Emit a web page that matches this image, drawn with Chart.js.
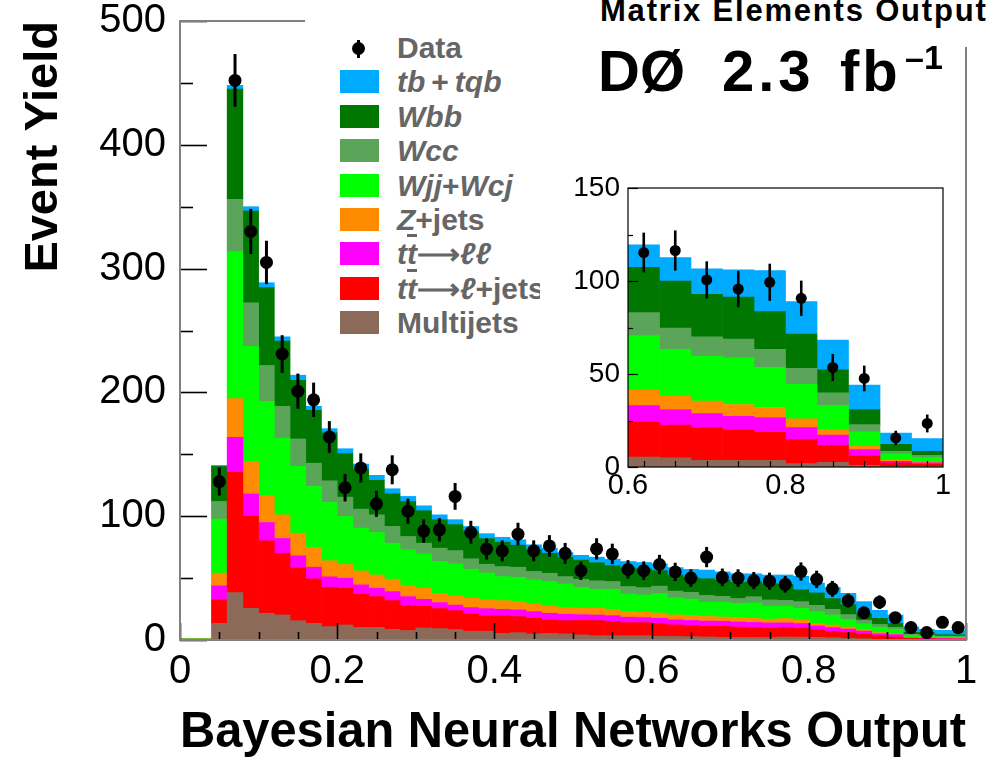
<!DOCTYPE html>
<html>
<head>
<meta charset="utf-8">
<title>Bayesian Neural Networks Output</title>
<script src="https://cdn.jsdelivr.net/npm/chart.js@4.4.1/dist/chart.umd.min.js"></script>
<style>
  body { margin: 0; background: #fff; }
  #wrap { position: relative; width: 996px; height: 765px; overflow: hidden;
          font-family: "Liberation Sans", Arial, sans-serif; }
  #mainChart { position: absolute; left: 0; top: 0; }
  #insetChart { position: absolute; left: 540px; top: 160px; background: #fff; }
  .mask { position: absolute; background: #fff; }
  #legend { left: 305px; top: 0; width: 250px; height: 340px; }
  .row { position: absolute; left: 0; height: 34px; line-height: 34px; width: 250px;
         font-weight: bold; font-size: 30px; color: #666; white-space: nowrap; }
  .sw { position: absolute; left: 35px; top: 5px; width: 39px; height: 23px; }
  .lbl { position: absolute; left: 92px; top: 0; }
  .i { font-style: italic; }
  .ov { text-decoration: overline; }
  .dot { position: absolute; left: 47px; top: 11px; width: 13px; height: 13px; border-radius: 50%; background: #000; }
  .err { position: absolute; left: 52px; top: 9px; width: 3px; height: 18px; background: #000; }
  #topMask { left: 555px; top: 0; width: 441px; height: 47px; }
  .big { position: absolute; font-weight: bold; color: #000; line-height: 1; white-space: nowrap; }
</style>
</head>
<body>
<div id="wrap">
  <canvas id="mainChart" width="996" height="765"></canvas>
  <div id="legend" class="mask"></div>
  <div id="topMask" class="mask"></div>
  <div class="big" style="left:600px;top:-5px;font-size:31px;letter-spacing:1.8px;">Matrix Elements Output</div>
  <div class="big" style="left:598px;top:42px;font-size:58px;">DØ</div>
  <div class="big" style="left:722px;top:42px;font-size:58px;letter-spacing:4px;">2.3</div>
  <div class="big" style="left:840px;top:42px;font-size:58px;letter-spacing:3px;">fb</div>
  <div class="big" style="left:905px;top:40px;font-size:34px;">–1</div>
  <canvas id="insetChart" width="420" height="350"></canvas>
</div>
<script>
// ===== DATA =====
// bin low edges, bin width 0.02
const binEdges = [
  "0.00", "0.02", "0.04", "0.06", "0.08", "0.10", "0.12", "0.14", "0.16", "0.18",
  "0.20", "0.22", "0.24", "0.26", "0.28", "0.30", "0.32", "0.34", "0.36", "0.38",
  "0.40", "0.42", "0.44", "0.46", "0.48", "0.50", "0.52", "0.54", "0.56", "0.58",
  "0.60", "0.62", "0.64", "0.66", "0.68", "0.70", "0.72", "0.74", "0.76", "0.78",
  "0.80", "0.82", "0.84", "0.86", "0.88", "0.90", "0.92", "0.94", "0.96", "0.98",
];

const multijets = [0, 0, 13.5, 38.3, 25.6, 21.6, 20.2, 15.6, 13.5, 10.8, 12.1, 10.2,
  10.2, 8.6, 7.6, 9.7, 9.2, 8.4, 7.1, 7.1, 5.4, 5.9,
  4.9, 5.4, 4.9, 4.1, 3.5, 3.5, 3.5, 3.5, 3.0, 2.8,
  2.7, 2.5, 2.2, 2.0, 2.0, 2.0, 2.5, 2.3, 2.1, 1.9,
  1.3, 1.0, 0.5, 0.4, 0.2, 0.2, 0.2, 0.2];
const ttLepJets = [0, 0, 18.9, 97.1, 74.2, 58.5, 49.9, 42.4, 35.9, 31.8, 29.7, 26.8,
  24.8, 23.2, 20.2, 17.5, 16.2, 15.3, 13.9, 12.4, 14.0, 13.0,
  12.6, 10.8, 10.7, 11.7, 12.2, 11.3, 10.5, 10.5, 10.0, 9.4,
  9.1, 8.5, 8.8, 8.5, 8.2, 7.5, 7.5, 7.1, 6.0, 4.8,
  4.7, 3.8, 3.0, 2.0, 1.1, 0.8, 0.6, 0.5];
const ttDilep = [0, 0, 11.3, 28.3, 18.1, 14.8, 11.9, 10.0, 9.4, 8.4, 8.1, 7.5,
  6.8, 7.3, 7.2, 5.7, 4.8, 4.5, 5.2, 5.8, 5.4, 5.4,
  5.4, 5.4, 5.2, 4.7, 4.5, 4.9, 4.4, 4.1, 4.5, 4.1,
  4.0, 4.3, 4.2, 4.1, 4.0, 4.3, 3.8, 3.9, 3.2, 3.3,
  2.8, 2.4, 1.5, 1.9, 0.4, 0.4, 0.4, 0.3];
const zJets = [0.8, 0.8, 10.3, 31.3, 26.4, 21.6, 19.1, 18.3, 16.0, 13.0, 11.1, 11.3,
  10.7, 10.0, 8.7, 8.9, 7.5, 7.5, 7.5, 7.3, 7.0, 6.7,
  6.2, 5.9, 5.6, 5.1, 5.4, 5.1, 4.6, 4.3, 4.3, 4.0,
  4.0, 3.7, 3.4, 3.6, 3.3, 3.0, 3.5, 2.9, 2.2, 2.1,
  1.7, 1.4, 1.0, 0.8, 0.5, 0.2, 0.3, 0.3];
const wjjWcj = [0, 0, 43.6, 118.7, 93.0, 76.3, 62.1, 53.9, 49.2, 47.1, 38.8, 34.6,
  34.3, 29.1, 29.1, 27.8, 25.7, 25.7, 23.5, 21.6, 19.4, 19.7,
  19.4, 19.7, 18.9, 16.9, 15.4, 16.2, 14.2, 14.0, 15.7, 13.7,
  13.2, 11.5, 11.9, 11.3, 12.5, 10.7, 10.0, 9.4, 9.4, 8.1,
  6.0, 4.4, 4.3, 3.5, 1.3, 1.7, 1.1, 1.2];
const wcc = [0, 0, 14.3, 42.3, 35.1, 28.9, 25.6, 22.2, 18.8, 17.5, 15.6, 15.3,
  14.3, 13.5, 10.8, 8.6, 10.8, 10.8, 8.4, 7.0, 8.1, 8.1,
  6.8, 6.7, 5.9, 6.5, 6.8, 6.2, 6.0, 5.9, 6.0, 5.5,
  5.5, 5.5, 4.8, 4.0, 5.0, 4.9, 4.7, 5.4, 5.1, 4.6,
  4.0, 3.0, 2.2, 1.7, 1.1, 0.6, 0.6, 0.6];
const wbb = [0, 0, 28.3, 89.0, 74.1, 62.9, 52.6, 47.4, 42.8, 38.7, 35.1, 32.4,
  27.9, 26.4, 28.3, 26.2, 22.9, 21.0, 22.1, 20.7, 19.7, 17.8,
  17.5, 16.2, 15.7, 15.5, 14.6, 12.8, 15.1, 15.2, 12.5, 13.0,
  12.0, 13.5, 13.2, 13.0, 12.0, 13.1, 13.0, 9.5, 10.0, 8.7,
  8.0, 5.0, 5.0, 3.1, 1.6, 2.1, 1.1, 1.1];
const singleTop = [0, 0, 0.8, 3.0, 3.5, 4.0, 3.5, 4.1, 3.2, 3.4, 4.0, 4.0,
  4.0, 4.1, 4.1, 4.0, 4.0, 4.0, 4.0, 4.0, 4.0, 4.4,
  4.1, 4.1, 3.7, 3.9, 4.5, 5.3, 5.1, 5.1, 5.5, 6.0,
  6.5, 7.0, 6.5, 7.0, 6.5, 7.0, 7.5, 11.0, 8.0, 9.0,
  9.2, 10.0, 6.5, 6.8, 4.3, 2.6, 3.5, 3.5];

const dataCounts = [null, null, 128, 452, 330, 305, 231, 201, 194, 164, 123, 139,
  110, 137.5, 104, 88, 89, 116, 87, 73.5, 72, 85.5,
  72, 76, 70, 56, 73.6, 69.5, 57, 56, 61, 55,
  50, 67, 50.6, 50, 48, 47.5, 45, 55.3, 49, 41.3,
  31.8, 22, 30.5, 18, 10, 6, 14.3, 10];
const dataErrors = [null, null, 11.3, 21.3, 18.2, 17.5, 15.2, 14.2, 13.9, 12.8, 11.1, 11.8,
  10.5, 11.7, 10.2, 9.4, 9.4, 10.8, 9.3, 8.6, 8.5, 9.2,
  8.5, 8.7, 8.4, 7.5, 8.6, 8.3, 7.5, 7.5, 7.8, 7.4,
  7.1, 8.2, 7.1, 7.1, 6.9, 6.9, 6.7, 7.4, 7.0, 6.4,
  5.6, 4.7, 5.5, 4.2, 3.2, 2.4, 3.8, 3.2];

// inset: 0.6 - 1.0, bin width 0.04
const insetEdges = ["0.60", "0.64", "0.68", "0.72", "0.76", "0.80", "0.84", "0.88", "0.92", "0.96"];
const insetMultijets = [5.4, 4.9, 3.6, 3.6, 3.6, 1.8, 2.5, 0.9, 0.4, 0.4];
const insetTtLepJets = [18.8, 17.6, 17.4, 16.2, 15.1, 12.9, 9.2, 5.0, 1.9, 1.0];
const insetTtDilep = [8.8, 8.4, 7.7, 7.5, 7.9, 6.5, 5.4, 3.4, 0.7, 0.8];
const insetZJets = [8.3, 7.4, 6.7, 6.3, 5.4, 4.7, 3.0, 1.8, 0.6, 0.5];
const insetWjjWcj = [29.3, 24.9, 24.2, 25.1, 21.5, 18.6, 13.1, 7.8, 3.4, 2.3];
const insetWcc = [12.4, 11.5, 10.4, 10.1, 9.7, 8.5, 6.7, 3.9, 1.4, 1.3];
const insetWbb = [24.4, 25.3, 22.9, 22.5, 20.3, 18.5, 12.3, 8.1, 3.8, 2.1];
const insetSingleTop = [12.1, 12.6, 13.6, 14.7, 22.1, 17.4, 16.1, 13.1, 6.1, 6.9];
const insetData = [115.3, 116.4, 100.6, 95.7, 99.3, 90.7, 53.5, 47.6, 15.6, 23.4];
const insetErrors = [10.7, 10.8, 10.0, 9.8, 10.0, 9.5, 7.3, 6.9, 3.9, 4.8];

// processes, bottom of the stack first
const processNames = ["Multijets", "tt→ℓ+jets", "tt→ℓℓ", "Z+jets", "Wjj+Wcj", "Wcc", "Wbb", "tb+tqb"];
const processColors = ["#8c6a5a", "#ff0000", "#ff00ff", "#ff8c00", "#00ff00", "#5aa55a", "#007700", "#00aaff"];
const legendLabels = [
  'Multijets',
  '<span class="i">t<span class="ov">t</span></span>⟶<span class="i">ℓ</span>+jets',
  '<span class="i">t<span class="ov">t</span></span>⟶<span class="i">ℓℓ</span>',
  '<span class="i">Z</span>+jets',
  '<span class="i">Wjj</span>+<span class="i">Wcj</span>',
  '<span class="i">Wcc</span>',
  '<span class="i">Wbb</span>',
  '<span class="i">tb</span>&thinsp;+&thinsp;<span class="i">tqb</span>',
];

const FONT = '"Liberation Sans", Arial, sans-serif';
Chart.defaults.font.family = FONT;
Chart.defaults.color = "#000";

// ===== PLUGINS =====
function drawTickSet(ctx, cfg, scale, horizontal, base, dir) {
  const n = Math.round((cfg.to - cfg.from) / cfg.step);
  for (let i = 0; i <= n; i++) {
    const v = cfg.from + i * cfg.step;
    let major = false;
    if (cfg.majorEvery) {
      const r = v / cfg.majorEvery;
      major = Math.abs(r - Math.round(r)) < 1e-6;
    }
    const len = major ? cfg.major : cfg.minor;
    const p = Math.round(scale.getPixelForValue(v)) + 0.5;
    ctx.beginPath();
    if (horizontal) {
      ctx.moveTo(p, base);
      ctx.lineTo(p, base + dir * len);
    } else {
      ctx.moveTo(base, p);
      ctx.lineTo(base + dir * len, p);
    }
    ctx.stroke();
  }
}

const histDecor = {
  id: "histDecor",
  afterDraw(chart, args, opts) {
    const ctx = chart.ctx;
    const a = chart.chartArea;
    ctx.save();
    ctx.strokeStyle = opts.tickColor;
    ctx.lineWidth = opts.tickWidth;
    drawTickSet(ctx, opts.yTicks, chart.scales.y, false, a.left, 1);
    drawTickSet(ctx, opts.xTicks, chart.scales[opts.xTicks.scale], true, a.bottom, -1);
    ctx.strokeStyle = opts.frameColor;
    ctx.lineWidth = opts.frameWidth;
    ctx.strokeRect(a.left, a.top, a.right - a.left, a.bottom - a.top);
    ctx.restore();
  },
};

const errorBars = {
  id: "errorBars",
  afterDatasetsDraw(chart, args, opts) {
    const ctx = chart.ctx;
    const y = chart.scales.y;
    const meta = chart.getDatasetMeta(opts.datasetIndex);
    const values = chart.data.datasets[opts.datasetIndex].data;
    ctx.save();
    ctx.strokeStyle = "#000";
    ctx.lineWidth = opts.width;
    meta.data.forEach((pt, i) => {
      if (values[i] == null) return;
      ctx.beginPath();
      ctx.moveTo(pt.x, y.getPixelForValue(values[i] - opts.errors[i]));
      ctx.lineTo(pt.x, y.getPixelForValue(values[i] + opts.errors[i]));
      ctx.stroke();
    });
    ctx.restore();
  },
};

function stackDatasets(series) {
  return series.map((values, i) => ({
    type: "bar",
    label: processNames[i],
    data: values,
    backgroundColor: processColors[i],
    borderWidth: 0,
    barPercentage: 1,
    categoryPercentage: 1,
    stack: "mc",
    order: 1,
  }));
}

function dataDataset(values, radius) {
  return {
    type: "line",
    label: "Data",
    data: values,
    showLine: false,
    pointRadius: radius,
    pointHoverRadius: radius,
    pointBackgroundColor: "#000",
    pointBorderWidth: 0,
    stack: "data",
    order: 0,
  };
}

// keep the plot frame where it is: no room reserved for half tick labels
function fixWidth(w) {
  return (s) => {
    s.width = w;
    s.paddingTop = 0;
    s.paddingBottom = 0;
  };
}
function fixHeight(h) {
  return (s) => {
    s.height = h;
    s.paddingLeft = 0;
    s.paddingRight = 0;
  };
}

// ===== MAIN PLOT =====
function renderMainChart() {
  const ctx = document.getElementById("mainChart");
  const datasets = stackDatasets([multijets, ttLepJets, ttDilep, zJets, wjjWcj, wcc, wbb, singleTop]);
  datasets.push(dataDataset(dataCounts, 6.5));

  new Chart(ctx, {
    type: "bar",
    data: { labels: binEdges, datasets: datasets },
    plugins: [histDecor, errorBars],
    options: {
      responsive: false,
      animation: false,
      events: [],
      layout: { padding: { top: 21, right: 30, left: 0, bottom: 0 }, autoPadding: false },
      plugins: {
        legend: { display: false },
        tooltip: { enabled: false },
        histDecor: {
          tickColor: "#000",
          tickWidth: 1.6,
          frameColor: "#808080",
          frameWidth: 2,
          yTicks: { from: 0, to: 500, step: 50, majorEvery: 100, major: 27, minor: 13 },
          xTicks: { scale: "xv", from: 0, to: 1, step: 0.05, majorEvery: 0.2, major: 17, minor: 8 },
        },
        errorBars: { datasetIndex: 8, errors: dataErrors, width: 3 },
      },
      scales: {
        x: { type: "category", stacked: true, display: false, offset: true },
        xv: {
          type: "linear",
          position: "bottom",
          offset: false,
          min: 0,
          max: 1,
          grid: { display: false, drawTicks: false, offset: false },
          border: { display: false },
          ticks: {
            stepSize: 0.2,
            padding: 8,
            maxRotation: 0,
            autoSkip: false,
            font: { size: 40 },
            callback: (v) => +v.toFixed(1),
          },
          title: {
            display: true,
            text: "Bayesian Neural Networks Output",
            align: "end",
            font: { size: 50, weight: "bold" },
            padding: { top: 0, bottom: 2 },
          },
          afterFit: fixHeight(125),
        },
        y: {
          stacked: true,
          min: 0,
          max: 500,
          grid: { display: false, drawTicks: false },
          border: { display: false },
          ticks: { stepSize: 100, padding: 14, font: { size: 40 } },
          title: {
            display: true,
            text: "Event Yield",
            align: "end",
            font: { size: 47, weight: "bold" },
            padding: { top: 16, bottom: 0 },
          },
          afterFit: fixWidth(180),
        },
      },
    },
  });
}

// ===== INSET =====
function renderInsetChart() {
  const ctx = document.getElementById("insetChart");
  const datasets = stackDatasets([insetMultijets, insetTtLepJets, insetTtDilep, insetZJets,
    insetWjjWcj, insetWcc, insetWbb, insetSingleTop]);
  datasets.push(dataDataset(insetData, 5.5));

  new Chart(ctx, {
    type: "bar",
    data: { labels: insetEdges, datasets: datasets },
    plugins: [histDecor, errorBars],
    options: {
      responsive: false,
      animation: false,
      events: [],
      layout: { padding: { top: 28, right: 17, left: 0, bottom: 0 }, autoPadding: false },
      plugins: {
        legend: { display: false },
        tooltip: { enabled: false },
        histDecor: {
          tickColor: "#000",
          tickWidth: 1.2,
          frameColor: "#000",
          frameWidth: 1.2,
          yTicks: { from: 0, to: 150, step: 25, majorEvery: 50, major: 10, minor: 5 },
          xTicks: { scale: "xv", from: 0.62, to: 0.98, step: 0.04, majorEvery: null, major: 6, minor: 6 },
        },
        errorBars: { datasetIndex: 8, errors: insetErrors, width: 2.6 },
      },
      scales: {
        x: { type: "category", stacked: true, display: false, offset: true },
        xv: {
          type: "linear",
          position: "bottom",
          offset: false,
          min: 0.6,
          max: 1,
          grid: { display: false, drawTicks: false, offset: false },
          border: { display: false },
          ticks: {
            stepSize: 0.2,
            padding: 2,
            maxRotation: 0,
            autoSkip: false,
            font: { size: 29 },
            callback: (v) => +v.toFixed(1),
          },
          afterFit: fixHeight(43),
        },
        y: {
          stacked: true,
          min: 0,
          max: 150,
          grid: { display: false, drawTicks: false },
          border: { display: false },
          ticks: { stepSize: 50, padding: 8, font: { size: 28 } },
          afterFit: fixWidth(88),
        },
      },
    },
  });
}

// ===== LEGEND =====
function renderLegend() {
  const box = document.getElementById("legend");
  const rowTop = (k) => 31 + k * 34.4;

  const dataRow = document.createElement("div");
  dataRow.className = "row";
  dataRow.style.top = rowTop(0) + "px";
  dataRow.innerHTML = '<div class="err"></div><div class="dot"></div><span class="lbl">Data</span>';
  box.appendChild(dataRow);

  // top of the stack first, as in the legend
  for (let i = processNames.length - 1, k = 1; i >= 0; i--, k++) {
    const row = document.createElement("div");
    row.className = "row";
    row.style.top = rowTop(k) + "px";
    row.innerHTML = `<div class="sw" style="background:${processColors[i]}"></div>
      <span class="lbl">${legendLabels[i]}</span>`;
    box.appendChild(row);
  }
}

renderMainChart();
renderInsetChart();
renderLegend();
</script>
</body>
</html>
